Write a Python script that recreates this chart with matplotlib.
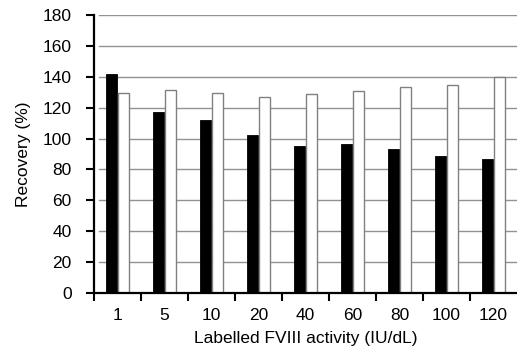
import matplotlib
matplotlib.use("Agg")
import matplotlib.pyplot as plt
import numpy as np

categories = ["1", "5", "10", "20", "40", "60", "80", "100", "120"]
black_values = [141.5, 117, 112, 102.5, 95.5, 96.5, 93, 88.5, 87]
white_values = [129.5, 131.5, 129.5, 127, 129, 130.5, 133.5, 134.5, 140]
y_ticks = [0, 20, 40, 60, 80, 100, 120, 140, 160, 180]

plt.rcParams['font.family'] = ['Liberation Sans', 'DejaVu Sans']

fig = plt.figure(figsize=(5.17, 3.5), dpi=100)
ax = fig.add_axes([0.182, 0.163, 0.818, 0.794])

x = np.arange(len(categories))
w = 0.24
for y in y_ticks[1:]:
    ax.axhline(y, xmin=0.012, xmax=1, color="#929292", lw=1.0, zorder=0)

ax.bar(x - 0.13, black_values, width=w, color="black", edgecolor="black", lw=0.6, zorder=2)
ax.bar(x + 0.13, white_values, width=w, color="white", edgecolor="#808080", lw=1.0, zorder=2)

ax.set_xlim(-0.5, len(categories) - 0.5)
ax.set_ylim(0, 180)
ax.set_yticks(y_ticks)
ax.set_xticks(x)
ax.set_xticklabels(categories)
ax.set_xticks(np.arange(len(categories)) - 0.5, minor=True)

for s in ["top", "right"]:
    ax.spines[s].set_visible(False)
for s in ["left", "bottom"]:
    ax.spines[s].set_linewidth(1.6)
    ax.spines[s].set_color("black")

fs = 12.5
ax.tick_params(axis="y", direction="out", length=6, width=1.5, labelsize=fs, pad=10)
ax.tick_params(axis="x", which="major", length=0, labelsize=fs, pad=10.5)
ax.tick_params(axis="x", which="minor", direction="out", length=6, width=1.5)

ax.set_ylabel("Recovery (%)", fontsize=fs, labelpad=8.5)
ax.set_xlabel("Labelled FVIII activity (IU/dL)", fontsize=fs, labelpad=6)

fig.savefig("out.png", dpi=100)
